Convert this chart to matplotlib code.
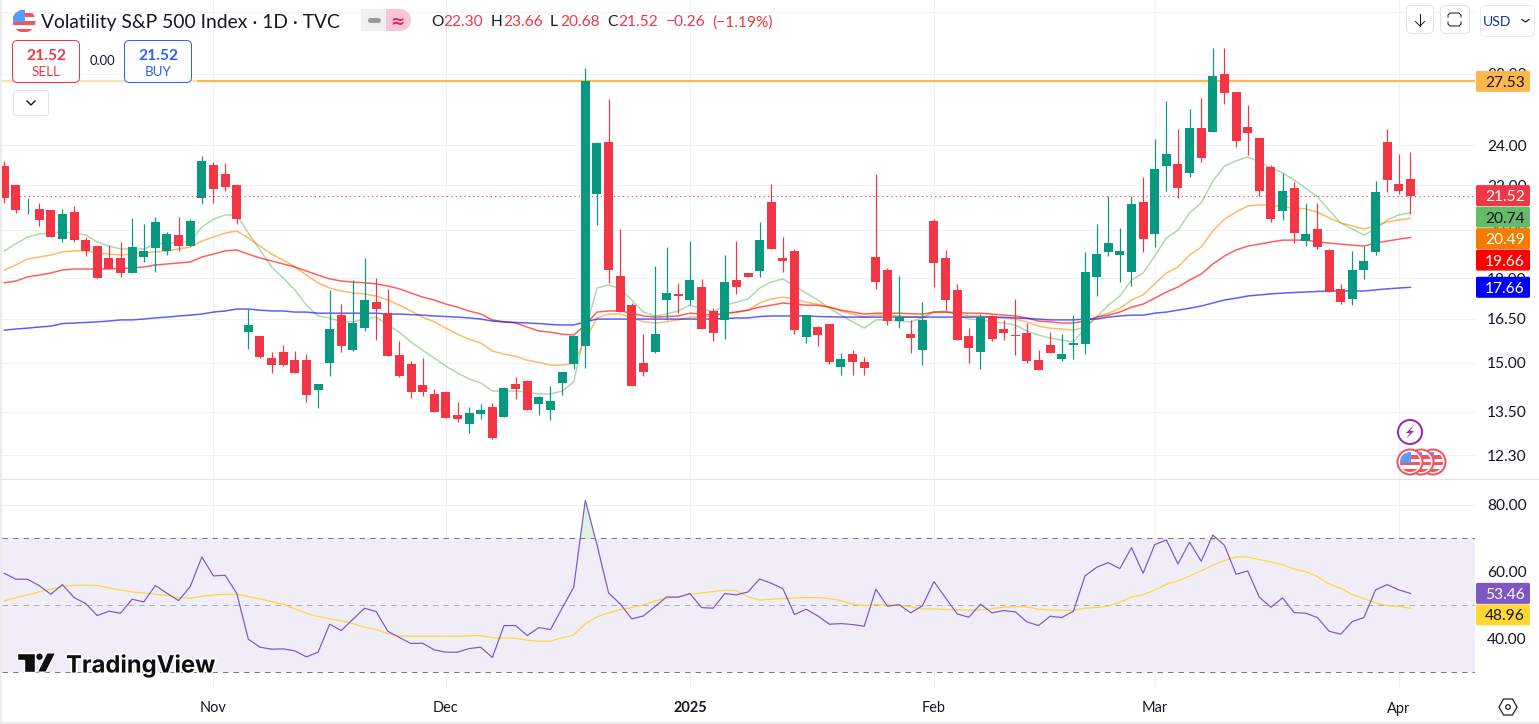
import matplotlib
matplotlib.use("Agg")
import matplotlib.pyplot as plt
import matplotlib.patheffects as pe
from matplotlib.patches import Circle, FancyBboxPatch, Polygon, Rectangle
from matplotlib.ticker import NullLocator

# Daily OHLC for the volatility index
opens = [22.94,22.01,20.93,20.91,20.86,19.59,20.77,19.55,19.30,18.81,
         18.81,18.21,18.85,19.22,19.10,19.77,19.30,21.41,22.99,22.55,
         22.01,16.03,15.90,15.16,15.35,15.09,15.09,14.15,14.99,16.63,
         15.42,16.17,17.10,16.70,15.25,14.96,14.30,14.03,14.09,13.41,
         13.15,13.43,13.64,13.35,14.34,14.43,13.73,13.55,14.37,14.96,
         15.56,21.60,24.16,18.09,16.99,14.99,15.35,17.18,17.41,17.18,
         17.67,16.78,16.46,17.94,18.21,18.29,21.23,18.81,19.10,15.86,
         16.21,16.31,14.87,15.29,15.02,18.85,18.33,16.42,15.96,15.42,
         20.38,18.81,17.56,15.90,15.35,16.60,16.14,15.93,16.00,15.09,
         15.59,15.12,15.59,15.62,18.06,19.06,18.93,18.25,21.23,19.81,
         22.94,23.04,22.60,24.89,24.68,27.97,26.91,24.95,24.36,22.89,
         20.82,21.87,19.51,20.02,19.14,17.60,17.22,18.33,19.06,24.16,
         22.06,22.30]
highs = [23.19,22.01,21.41,21.18,20.86,20.91,21.04,19.68,19.34,19.34,
         19.47,20.51,20.24,20.55,19.89,20.55,20.46,23.44,23.14,23.09,
         22.06,16.85,15.90,15.35,15.59,15.39,15.29,14.34,17.56,17.03,
         17.94,18.81,18.02,17.60,15.73,15.06,15.16,14.18,14.12,13.79,
         13.64,13.73,13.76,14.24,14.55,14.46,13.97,14.27,14.71,15.90,
         28.33,24.16,26.51,20.02,17.07,15.96,18.49,19.26,17.83,19.51,
         17.98,16.88,18.93,19.51,18.21,20.33,22.06,19.68,19.18,16.63,
         16.24,16.31,15.32,15.42,15.19,22.55,18.41,18.09,16.46,17.10,
         20.46,19.14,17.79,16.17,16.67,16.63,16.46,17.22,16.35,15.42,
         16.03,15.96,16.63,19.06,20.24,21.50,20.07,21.50,22.40,24.31,
         26.39,24.84,25.94,26.56,29.59,29.59,26.91,26.17,24.36,22.99,
         22.60,22.15,21.18,21.18,19.18,17.79,19.10,19.30,22.20,24.84,
         23.54,23.66]
lows = [21.18,20.73,20.69,20.16,19.68,19.47,19.47,18.89,18.02,18.37,
        18.06,18.21,18.65,18.25,18.93,19.10,19.30,21.14,21.18,21.73,
        20.24,15.45,15.16,14.68,14.90,14.68,13.79,13.61,14.58,15.35,
        15.39,16.07,15.76,15.22,14.55,13.91,13.97,13.49,13.32,13.20,
        12.90,13.29,12.73,13.35,13.88,13.55,13.41,13.26,14.00,14.80,
        14.83,20.20,17.83,16.74,14.27,14.58,15.32,16.46,16.70,16.99,
        16.14,15.73,15.79,17.41,18.06,18.06,19.18,18.25,15.96,15.66,
        15.56,14.96,14.61,14.61,14.61,17.60,16.28,16.17,15.32,14.93,
        17.67,16.81,15.76,14.99,14.80,15.73,15.76,15.25,14.99,14.77,
        15.32,15.06,15.12,15.29,17.33,18.89,17.86,17.71,19.06,19.26,
        21.73,21.41,22.40,23.14,24.68,26.22,23.90,23.49,21.50,20.33,
        20.42,19.43,19.30,19.18,17.48,17.03,16.99,17.98,18.93,21.69,
        21.60,20.68]
closes = [21.41,20.86,20.97,20.42,19.68,20.69,19.55,19.10,18.02,18.37,
          18.21,19.26,19.10,20.33,19.81,19.30,20.38,23.19,21.83,21.92,
          20.46,16.28,15.19,14.93,14.93,14.68,14.00,14.34,16.14,15.56,
          16.35,17.18,16.85,15.22,14.58,14.09,14.09,13.49,13.32,13.29,
          13.46,13.55,12.76,14.21,14.18,13.55,13.94,13.82,14.71,15.90,
          27.53,24.10,18.33,16.74,14.27,14.71,15.96,17.44,17.33,17.94,
          16.14,16.00,17.86,17.67,18.06,19.55,19.18,18.69,16.10,16.63,
          15.93,15.02,15.12,15.02,14.83,17.86,16.42,16.56,15.83,16.46,
          18.61,17.18,15.76,15.49,16.56,15.79,16.00,15.90,15.06,14.77,
          15.32,15.29,15.66,18.25,18.97,19.43,19.10,21.14,19.59,22.79,
          23.54,21.87,24.89,23.34,27.84,26.85,24.21,24.63,21.73,20.46,
          21.73,19.85,19.81,19.26,17.48,17.10,18.33,18.69,21.69,22.25,
          21.73,21.52]

# Moving averages plotted over the candles
ma_fast = [19.10,19.40,19.68,19.81,19.85,19.89,19.85,19.77,19.47,19.30,
           19.18,19.18,19.18,19.38,19.42,19.45,19.47,20.11,20.45,20.64,
           20.64,19.85,19.14,18.45,18.02,17.56,16.99,16.60,16.53,16.39,
           16.39,16.49,16.56,16.28,16.03,15.69,15.42,15.16,14.90,14.68,
           14.49,14.37,14.12,14.12,14.12,14.09,14.03,14.03,14.12,14.40,
           16.10,17.63,17.75,17.60,17.18,16.74,16.60,16.67,16.78,16.99,
           16.88,16.74,16.99,17.10,17.22,17.63,17.86,17.98,17.71,17.44,
           17.18,16.88,16.63,16.39,16.17,16.46,16.46,16.42,16.39,16.53,
           16.74,16.78,16.63,16.49,16.46,16.39,16.35,16.28,16.07,15.93,
           15.83,15.76,15.69,16.17,16.56,16.99,17.33,17.94,18.21,18.89,
           19.64,19.98,20.73,21.18,22.20,22.94,23.19,23.39,23.14,22.84,
           22.60,22.25,21.87,21.46,20.86,20.29,20.02,19.77,20.02,20.42,
           20.64,20.74]
ma_mid = [18.33,18.53,18.77,18.85,18.93,19.06,19.10,19.10,19.02,18.97,
          18.93,18.97,19.02,19.06,19.10,19.18,19.26,19.51,19.68,19.85,
          19.94,19.64,19.30,18.97,18.73,18.45,18.13,17.83,17.63,17.52,
          17.44,17.41,17.33,17.18,16.99,16.78,16.56,16.39,16.17,15.96,
          15.79,15.66,15.39,15.29,15.22,15.09,15.02,14.93,14.93,14.99,
          15.76,16.53,16.67,16.67,16.53,16.39,16.35,16.39,16.46,16.56,
          16.56,16.60,16.67,16.74,16.81,17.07,17.22,17.29,17.22,17.10,
          17.03,16.92,16.78,16.67,16.56,16.63,16.63,16.60,16.56,16.56,
          16.74,16.74,16.67,16.60,16.60,16.56,16.53,16.49,16.39,16.24,
          16.17,16.14,16.10,16.21,16.56,16.70,16.88,17.18,17.37,17.79,
          18.21,18.45,18.93,19.26,19.94,20.46,20.77,21.04,21.09,21.09,
          21.00,20.95,20.91,20.77,20.51,20.29,20.16,20.02,20.16,20.33,
          20.42,20.49]
ma_slow = [17.83,17.90,18.06,18.13,18.21,18.33,18.37,18.37,18.37,18.37,
           18.39,18.41,18.45,18.53,18.57,18.61,18.65,18.85,18.97,19.10,
           19.14,18.97,18.81,18.69,18.57,18.45,18.29,18.13,17.98,17.90,
           17.86,17.83,17.79,17.71,17.60,17.44,17.29,17.18,17.03,16.92,
           16.78,16.67,16.46,16.39,16.35,16.21,16.07,16.03,15.96,15.93,
           16.28,16.74,16.78,16.78,16.70,16.60,16.56,16.58,16.60,16.70,
           16.67,16.63,16.70,16.74,16.81,16.92,16.99,17.07,17.03,16.99,
           16.99,16.92,16.81,16.74,16.67,16.70,16.70,16.70,16.68,16.67,
           16.74,16.74,16.72,16.70,16.70,16.67,16.63,16.60,16.53,16.42,
           16.39,16.35,16.35,16.42,16.56,16.63,16.74,16.92,17.03,17.25,
           17.48,17.67,17.94,18.17,18.57,18.89,19.14,19.30,19.38,19.47,
           19.55,19.55,19.55,19.47,19.43,19.38,19.34,19.30,19.43,19.51,
           19.59,19.66]
ma_long = [16.10,16.14,16.17,16.21,16.24,16.33,16.35,16.37,16.39,16.42,
           16.46,16.46,16.49,16.53,16.56,16.60,16.63,16.67,16.74,16.78,
           16.85,16.85,16.81,16.78,16.78,16.74,16.74,16.70,16.70,16.70,
           16.70,16.70,16.70,16.67,16.67,16.65,16.63,16.60,16.58,16.56,
           16.53,16.49,16.42,16.39,16.37,16.35,16.33,16.30,16.28,16.28,
           16.39,16.49,16.49,16.49,16.49,16.49,16.49,16.49,16.49,16.49,
           16.49,16.49,16.51,16.53,16.53,16.58,16.60,16.60,16.60,16.60,
           16.58,16.57,16.56,16.56,16.56,16.56,16.56,16.56,16.56,16.56,
           16.56,16.56,16.56,16.56,16.56,16.56,16.55,16.53,16.51,16.49,
           16.46,16.46,16.46,16.49,16.49,16.56,16.60,16.63,16.63,16.70,
           16.74,16.81,16.88,16.96,17.07,17.18,17.25,17.33,17.37,17.41,
           17.44,17.46,17.48,17.50,17.52,17.52,17.52,17.52,17.56,17.60,
           17.63,17.66]

# RSI pane
rsi = [59.5,57.7,57.7,55.8,53.2,56.1,52.2,50.4,46.8,48.1,
       47.5,51.7,50.9,55.8,53.5,51.3,55.5,64.4,58.7,58.9,
       53.5,39.7,37.3,36.7,36.8,36.2,34.4,35.8,44.2,42.3,
       45.7,49.0,48.0,42.1,40.2,38.4,38.5,36.5,35.8,35.8,
       36.9,37.3,34.2,43.8,43.8,40.8,43.2,42.6,49.0,55.3,
       81.4,68.1,53.6,50.3,45.8,46.7,49.5,52.4,52.3,53.4,
       49.2,49.0,53.4,53.0,53.9,57.8,56.5,54.9,47.1,48.7,
       46.7,44.2,44.4,44.1,43.6,54.7,49.6,50.1,47.6,49.7,
       57.0,52.1,47.3,46.3,50.2,47.6,48.3,47.9,44.9,43.8,
       46.6,46.2,48.1,58.7,61.3,62.7,60.9,67.2,59.5,68.1,
       69.5,62.3,68.8,63.1,71.0,67.9,59.2,60.2,52.3,49.3,
       52.1,47.7,47.5,46.2,42.1,41.2,45.0,46.2,54.5,56.1,
       54.5,53.46]
rsi_ma = [51.2,52.2,53.0,53.9,54.7,55.5,55.9,55.9,55.8,55.1,
          54.5,53.9,53.6,53.2,52.8,52.2,52.0,52.6,53.0,53.2,
          53.2,52.5,51.8,51.0,50.2,48.8,47.5,46.5,45.8,45.2,
          44.4,43.3,42.6,41.4,40.7,40.6,40.6,40.6,40.6,40.6,
          40.7,40.8,40.1,40.1,40.0,39.4,39.1,39.1,40.1,41.0,
          44.3,46.4,47.6,48.6,49.2,50.0,51.2,52.0,52.4,53.2,
          53.6,54.0,54.4,54.3,52.4,51.5,51.7,51.9,52.1,52.2,
          52.2,51.9,51.3,50.2,49.8,50.1,50.0,49.9,49.4,48.8,
          48.8,48.6,48.5,48.5,48.5,48.9,49.3,49.4,49.4,48.7,
          48.5,48.4,48.3,49.0,49.2,49.7,50.8,52.4,53.1,54.5,
          56.2,57.2,58.7,60.2,62.0,63.3,64.4,64.4,63.6,62.9,
          62.1,60.8,60.0,58.5,56.3,55.0,53.1,51.9,50.6,49.8,
          49.6,48.96]

for series in (opens, highs, lows, closes, ma_fast, ma_mid, ma_slow, ma_long, rsi, rsi_ma):
    assert len(series) == 122

# Axis ticks and levels
price_ticks = [32, 28, 24, 22, 20, 18, 16.5, 15, 13.5, 12.3]
rsi_ticks = [80, 60, 40]
month_pos = [18, 38, 59, 80, 99, 120]
month_labels = ["Nov", "Dec", "2025", "Feb", "Mar", "Apr"]
resistance = 27.53
last_close = 21.52
rsi_upper, rsi_mid, rsi_lower = 70, 50, 30

UP = "#089981"
DOWN = "#F23645"
GRID = "#f0f1f3"
TEXT = "#131722"
FONT = "Lato"
PX = 0.72  # points per pixel at dpi 100
TICK_SIZE = 15.5

plt.rcParams["font.family"] = [FONT, "DejaVu Sans"]

W, H = 1539, 724
fig = plt.figure(figsize=(W / 100, H / 100), dpi=100, facecolor="white")


def pane(x0, y0, x1, y1):
    return fig.add_axes([x0 / W, 1 - y1 / H, (x1 - x0) / W, (y1 - y0) / H])


ax = pane(2, 0, 1475, 479)
ax_rsi = pane(2, 480, 1475, 689)
top = fig.add_axes([0, 0, 1, 1], zorder=20)
top.set_xlim(0, W)
top.set_ylim(H, 0)
top.axis("off")
top.patch.set_alpha(0)

# Price pane
xs = list(range(len(closes)))
ax.set_yscale("log")
ax.set_ylim(11.68, 32.81)
ax.set_xlim(-0.198, 126.56)
for series, colour, alpha in ((ma_fast, "#66bb6a", 0.55), (ma_mid, "#ff8a00", 0.6),
                              (ma_slow, "#ff1010", 0.68), (ma_long, "#1010ff", 0.68)):
    ax.plot(xs, series, color=colour, alpha=alpha, lw=1.5 * PX, zorder=2)
ax.axhline(resistance, color="#ffb74d", lw=2.2 * PX, zorder=2.2)
colours = [UP if c >= o else DOWN for o, c in zip(opens, closes)]
ax.vlines(xs, lows, highs, colors=colours, lw=1.2 * PX, zorder=3)
ax.bar(xs, [abs(c - o) for o, c in zip(opens, closes)],
       bottom=[min(o, c) for o, c in zip(opens, closes)],
       width=0.775, color=colours, linewidth=0, zorder=3.1)
ax.axhline(last_close, color=DOWN, lw=1.1 * PX, ls=(0, (1, 3)), zorder=4)

ax.yaxis.set_minor_locator(NullLocator())
ax.yaxis.set_major_locator(plt.FixedLocator(price_ticks))
ax.set_yticklabels([f"{p:.2f}" for p in price_ticks])
ax.yaxis.tick_right()
ax.set_xticks(month_pos)
ax.tick_params(axis="x", length=0, labelbottom=False)
ax.tick_params(axis="y", length=0, pad=8.5, labelsize=TICK_SIZE * PX, labelcolor=TEXT)
ax.xaxis.set_minor_locator(NullLocator())

# RSI pane
ax_rsi.set_xlim(ax.get_xlim())
ax_rsi.set_ylim(24.75, 87.5)
ax_rsi.axhspan(rsi_lower, rsi_upper, color="#7e57c2", alpha=0.105, lw=0, zorder=0.5)
ax_rsi.fill_between(xs, rsi_upper, rsi, where=[v > rsi_upper for v in rsi], interpolate=True,
                    color="#c8e6c9", alpha=0.55, lw=0, zorder=1)
ax_rsi.axhline(rsi_upper, color="#787b86", lw=1 * PX, ls=(0, (5.5, 5)), zorder=1.5)
ax_rsi.axhline(rsi_lower, color="#787b86", lw=1 * PX, ls=(0, (5.5, 5)), zorder=1.5)
ax_rsi.axhline(rsi_mid, color="#787b86", alpha=0.55, lw=1 * PX, ls=(0, (5.5, 5)), zorder=1.5)
ax_rsi.plot(xs, rsi_ma, color="#fdd835", lw=1.2 * PX, zorder=2)
ax_rsi.plot(xs, rsi, color="#7e57c2", lw=1.2 * PX, zorder=2.2)
ax_rsi.yaxis.tick_right()
ax_rsi.set_yticks(rsi_ticks)
ax_rsi.set_yticklabels([f"{v:.2f}" for v in rsi_ticks])
ax_rsi.set_xticks(month_pos)
ax_rsi.set_xticklabels(month_labels)
ax_rsi.tick_params(axis="x", length=0, pad=9, labelsize=14.5 * PX, labelcolor=TEXT)
ax_rsi.tick_params(axis="y", length=0, pad=8.5, labelsize=TICK_SIZE * PX, labelcolor=TEXT)
ax_rsi.get_xticklabels()[month_labels.index("2025")].set_fontweight("bold")

for a in (ax, ax_rsi):
    a.set_axisbelow(True)
    a.grid(True, color=GRID, lw=1 * PX)
    a.patch.set_alpha(0)
    for s in a.spines.values():
        s.set_visible(False)

# Chrome: separators
top.add_patch(Rectangle((0, 0), 1.6, H, color="#ececec", lw=0))
top.add_patch(Rectangle((0, H - 1.6), W, 1.6, color="#ececec", lw=0))
top.add_patch(Rectangle((0, 479), W, 1, color="#e0e3eb", lw=0))


def to_px(axis, value):
    return H - axis.transData.transform((0, value))[1]


def rounded(x0, y0, x1, y1, r=4, fc="white", ec="none", lw=1, alpha=None, z=5):
    top.add_patch(FancyBboxPatch((x0 + r, y0 + r), x1 - x0 - 2 * r, y1 - y0 - 2 * r,
                                 boxstyle=f"round,pad={r},rounding_size={r}",
                                 fc=fc, ec=ec, lw=lw * PX, alpha=alpha, zorder=z))


def label(x, y, s, color=TEXT, size=15, ha="center", weight="normal", z=8, **kw):
    return top.text(x, y, s, color=color, fontsize=size * PX, ha=ha, va="center_baseline",
                    fontweight=weight, zorder=z, **kw)


def price_tags(axis, items):
    """Stack value tags on the price scale so neighbours do not overlap."""
    last = -100
    for value, fc, tc in items:
        y = max(to_px(axis, value), last + 21.5)
        last = y
        rounded(1476, y - 10.5, 1530, y + 10.5, r=1.5, fc=fc, z=6)
        label(1505, y, f"{value:.2f}", color=tc, size=TICK_SIZE)


fig.canvas.draw()
price_tags(ax, [(resistance, "#ffb74d", TEXT)])
price_tags(ax, [(last_close, DOWN, "white"), (ma_fast[-1], "#66bb6a", TEXT),
                (ma_mid[-1], "#f57c00", "white"), (ma_slow[-1], "#ff0000", "white"),
                (ma_long[-1], "#0000ff", "white")])
price_tags(ax_rsi, [(rsi[-1], "#7e57c2", "white"), (rsi_ma[-1], "#fdd835", TEXT)])


def flag(cx, cy, r, z=7):
    clip = Circle((cx, cy), r, transform=top.transData)
    rect = lambda x, y, w, h, c: top.add_patch(
        Rectangle((x, y), w, h, fc=c, lw=0, zorder=z, clip_path=clip))
    rect(cx - r, cy - r, 2 * r, 2 * r, "white")
    for i in (1, 3, 5):
        rect(cx - r, cy - r + i * r / 3, 2 * r, r / 3, "#f7525f")
    rect(cx - r, cy - r, r * 1.05, r * 1.05, "#5b9cf6")


# Header row
flag(24, 21, 11.5)
label(41, 21, "Volatility S&P 500 Index · 1D · TVC", size=19.3, ha="left")
rounded(361, 9, 386, 31, r=0, fc="#f0f0f0", z=5)
top.add_patch(Circle((372, 20), 11, fc="#f0f0f0", lw=0, zorder=5))
top.add_patch(Rectangle((386, 9), 14, 22, fc="#f7c5d8", lw=0, zorder=5))
top.add_patch(Circle((400, 20), 11, fc="#f7c5d8", lw=0, zorder=5))
top.plot([370, 378], [20, 20], color="#9a9a9a", lw=5 * PX, solid_capstyle="round", zorder=6)
label(397.5, 20, "≈", color="#e91e63", size=17, family="DejaVu Sans", weight="bold")

for x, s, c in [(431, "O", TEXT), (443, "22.30", DOWN), (491, "H", TEXT), (503, "23.66", DOWN),
                (550, "L", TEXT), (560, "20.68", DOWN), (607, "C", TEXT), (618, "21.52", DOWN),
                (666, "−0.26", DOWN), (712, "(−1.19%)", DOWN)]:
    label(x, 21, s, color=c, size=15.5, ha="left")

# Sell / buy box
top.add_patch(Rectangle((2, 78), 195, 5, fc="white", alpha=0.55, lw=0, zorder=4))
rounded(12.5, 40.5, 79.5, 82.5, r=5, fc="white", ec=DOWN, z=5)
rounded(124.5, 40.5, 191.5, 82.5, r=5, fc="white", ec="#2962ff", z=5)
label(46, 54, "21.52", color=DOWN, size=15.5, weight="bold")
label(46, 71, "SELL", color=DOWN, size=13.5)
label(102, 60, "0.00", size=13)
label(158, 54, "21.52", color="#2962ff", size=15.5, weight="bold")
label(158, 71, "BUY", color="#2962ff", size=13.5)
rounded(13.5, 90.5, 48.5, 115.5, r=3, fc="white", ec="#e0e3eb", z=5)
top.plot([27, 31, 35], [101, 105, 101], color=TEXT, lw=1.4 * PX, zorder=6)

# Top-right controls
rounded(1406.5, 5.5, 1433.5, 33.5, r=5, fc="white", ec="#e0e3eb", z=5)
rounded(1440.5, 5.5, 1469.5, 33.5, r=5, fc="white", ec="#e0e3eb", z=5)
rounded(1480.5, 5.5, 1534.5, 36.5, r=5, fc="white", ec="#e8eaee", z=5)
top.plot([1420, 1420], [14, 26], color=TEXT, lw=1 * PX, zorder=6)
top.plot([1415.5, 1420, 1424.5], [21.5, 26, 21.5], color=TEXT, lw=1 * PX, zorder=6)
top.plot([1448, 1448, 1450, 1459, 1461, 1461], [17, 15, 13, 13, 15, 17], color=TEXT, lw=1 * PX, zorder=6)
top.plot([1448, 1448, 1450, 1459, 1461, 1461], [22, 24, 26, 26, 24, 22], color=TEXT, lw=1 * PX, zorder=6)
label(1497, 21, "USD", size=14, color="#0c3299")
top.plot([1522, 1525.5, 1529], [19.5, 22, 19.5], color=TEXT, lw=1.2 * PX, zorder=6)

# Event markers
top.add_patch(Circle((1410, 432), 12, fc="white", ec="#9c27b0", lw=2 * PX, zorder=7))
top.add_patch(Polygon([(1414, 425), (1406, 433), (1410, 433), (1406, 439), (1414, 431), (1410, 431)],
                      fc="#9c27b0", lw=0, zorder=7.1))
for i, cx in enumerate((1433, 1421, 1410)):
    top.add_patch(Circle((cx, 462), 12.5, fc="white", ec="#f7525f", lw=2 * PX, zorder=7 + i))
    flag(cx, 462, 10, z=7.2 + i)

# Brand mark
top.add_patch(Polygon([(17, 653), (35, 653), (35, 672), (24, 672), (24, 660), (17, 660)],
                      fc="#0f0f0f", ec="white", lw=1.4 * PX, zorder=6))
top.add_patch(Circle((39.5, 656.7), 3.7, fc="#0f0f0f", ec="white", lw=1 * PX, zorder=6))
top.add_patch(Polygon([(47, 653), (55.5, 653), (46, 672), (37.5, 672)],
                      fc="#0f0f0f", ec="white", lw=1 * PX, zorder=6))
label(66, 663.5, "TradingView", color="#0f0f0f", size=23.8, ha="left", weight="bold", family="Inter",
      path_effects=[pe.withStroke(linewidth=2.5, foreground="white")])

# Settings glyph
top.add_patch(Polygon([(1499, 707), (1503.5, 699), (1512.5, 699), (1517, 707), (1512.5, 715), (1503.5, 715)],
                      fc="white", ec=TEXT, lw=1.2 * PX, zorder=6))
top.add_patch(Circle((1508, 707), 2.3, fc="white", ec=TEXT, lw=1.2 * PX, zorder=6.1))

fig.savefig("out.png", dpi=100, facecolor="white")
